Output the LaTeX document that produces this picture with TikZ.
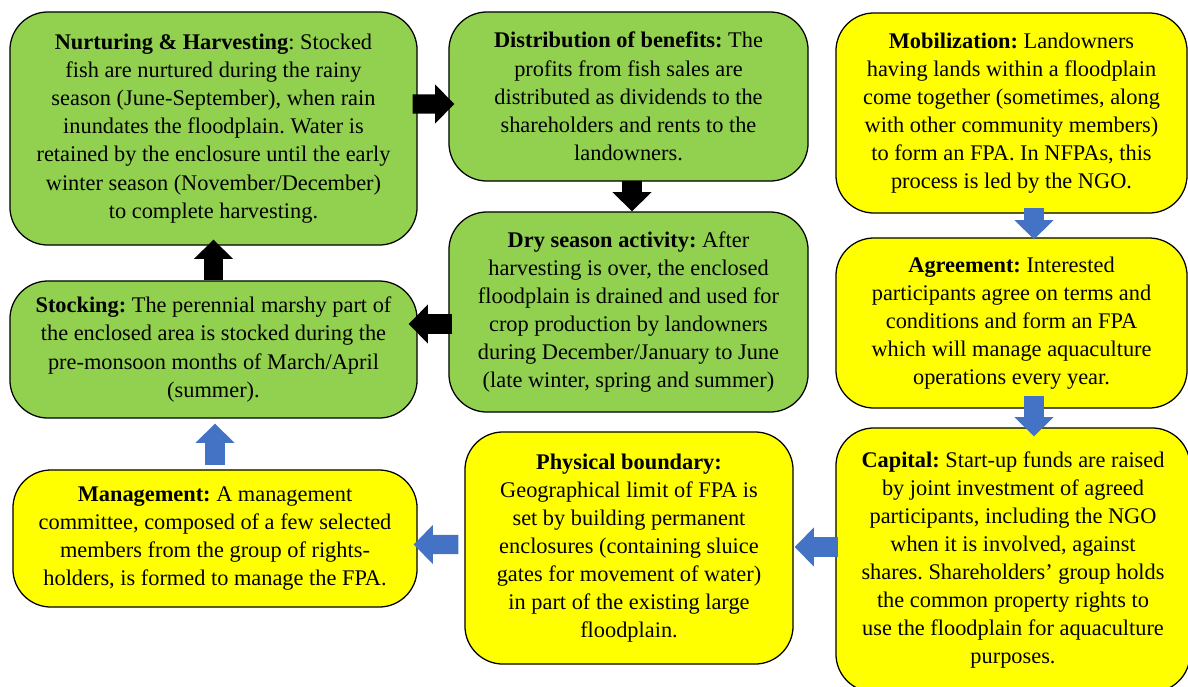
\documentclass[tikz,border=0pt]{standalone}
\usepackage{fontspec}
\setmainfont{Liberation Serif}
\usetikzlibrary{arrows.meta,calc}
\definecolor{leaf}{RGB}{146,208,80}
\definecolor{sun}{RGB}{255,255,0}
\definecolor{flowblue}{RGB}{68,114,196}
\frenchspacing

\begin{document}
\begin{tikzpicture}[
  x=0.025cm, y=-0.025cm,
  box/.style={rectangle, rounded corners=0.95cm, draw=black, line width=0.9pt,
              align=center, inner sep=2pt, font=\fontsize{15.9}{20}\selectfont},
  grn/.style={box, fill=leaf},
  ylw/.style={box, fill=sun},
  blk/.style={draw=black, line width=0.48cm, -{Triangle[length=0.48cm, width=0.95cm]}},
  blu/.style={blk, draw=flowblue},
]
\useasboundingbox (0,0) rectangle (1188,686);

% green cycle
\node[grn, minimum width=10.175cm, minimum height=5.825cm] (nurt) at (213.5,128.5)
  {\textbf{Nurturing \& Harvesting}: Stocked\\fish are nurtured during the rainy\\season (June-September), when rain\\inundates the floodplain. Water is\\retained by the enclosure until the early\\winter season (November/December)\\to complete harvesting.};
\node[grn, minimum width=8.975cm, minimum height=4.225cm] (dist) at (628.5,96.5)
  {\textbf{Distribution of benefits:} The\\profits from fish sales are\\distributed as dividends to the\\shareholders and rents to the\\landowners.};
\node[grn, minimum width=8.975cm, minimum height=5cm] (dry) at (628.5,312)
  {\textbf{Dry season activity:} After\\harvesting is over, the enclosed\\floodplain is drained and used for\\crop production by landowners\\during December/January to June\\(late winter, spring and summer)};
\node[grn, minimum width=10.175cm, minimum height=3.425cm] (stock) at (213.5,349.5)
  {\textbf{Stocking:} The perennial marshy part of\\the enclosed area is stocked during the\\pre-monsoon months of March/April\\(summer).};

% yellow set-up steps
\node[ylw, minimum width=8.775cm, minimum height=5cm] (mob) at (1011.5,113)
  {\textbf{Mobilization:} Landowners\\having lands within a floodplain\\come together (sometimes, along\\with other community members)\\to form an FPA. In NFPAs, this\\process is led by the NGO.};
\node[ylw, minimum width=8.775cm, minimum height=4.25cm] (agree) at (1011.5,323)
  {\textbf{Agreement:} Interested\\participants agree on terms and\\conditions and form an FPA\\which will manage aquaculture\\operations every year.};
\node[ylw, minimum width=8.85cm, minimum height=6.6cm] (cap) at (1013,560)
  {\textbf{Capital:} Start-up funds are raised\\by joint investment of agreed\\participants, including the NGO\\when it is involved, against\\shares. Shareholders’ group holds\\the common property rights to\\use the floodplain for aquaculture\\purposes.};
\node[ylw, minimum width=8.2cm, minimum height=5.8cm] (phys) at (629,548)
  {\textbf{Physical boundary:}\\Geographical limit of FPA is\\set by building permanent\\enclosures (containing sluice\\gates for movement of water)\\in part of the existing large\\floodplain.};
\node[ylw, minimum width=10.1cm, minimum height=3.425cm] (mgmt) at (215,538.5)
  {\textbf{Management:} A management\\committee, composed of a few selected\\members from the group of rights-\\holders, is formed to manage the FPA.};

% block arrows
\draw[blk] ($(nurt.east)+(-5,-24.5)$) -- ($(dist.west)+(6,7.5)$);
\draw[blk] ($(dist.south)+(3.5,-1)$) -- ($(dist.south |- dry.north)+(3.5,0)$);
\draw[blk] ($(dry.west)+(4,12)$) -- ($(stock.east)+(-9,-25.5)$);
\draw[blk] (stock.north) -- ($(nurt.south)+(0,-6)$);

\draw[blu] ($(mob.south)+(22.5,-6)$) -- ($(mob.south |- agree.north)+(22.5,2)$);
\draw[blu] ($(agree.south)+(22.5,-13)$) -- ($(agree.south |- cap.north)+(22.5,9)$);
\draw[blu] ($(cap.west)+(3,-13)$) -- ($(phys.east)+(1,-1)$);
\draw[blu] ($(phys.west)+(-6,-3.5)$) -- ($(mgmt.east)+(-4,6)$);
\draw[blu] ($(mgmt.north)+(0,-4)$) -- ($(mgmt.north |- stock.south)+(0,5)$);

\end{tikzpicture}
\end{document}
